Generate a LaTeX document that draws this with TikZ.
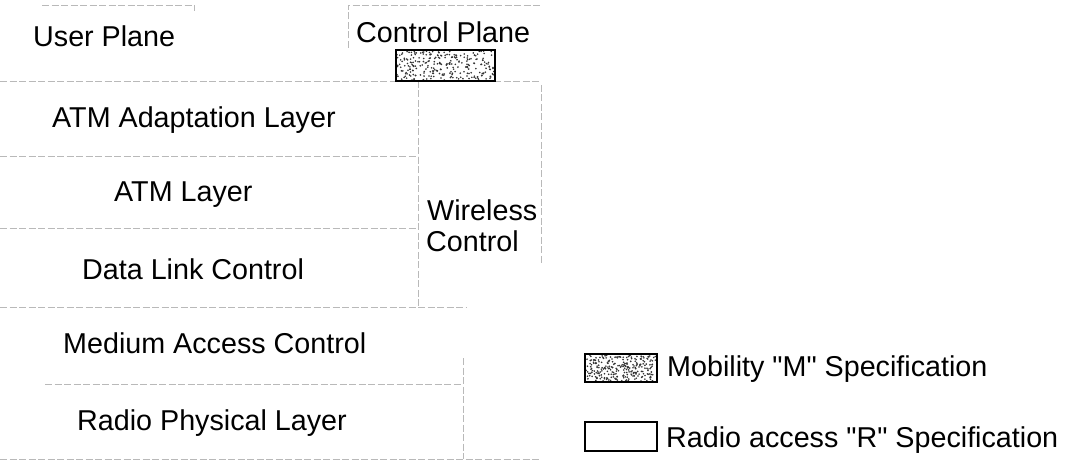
\documentclass[tikz,border=0pt]{standalone}
\usepackage{fontspec}
\setmainfont{Liberation Sans}[Ligatures=TeXOff]
\begin{document}
\begin{tikzpicture}[x=1pt,y=-1pt,
  sepline/.style={draw=gray!55,line width=0.9pt,dash pattern=on 7pt off 2.5pt},
  lbl/.style={font=\fontsize{28.7}{32}\selectfont,anchor=base west,inner sep=0pt,text=black},
  specbox/.style={draw=black,line width=2.2pt}]
\useasboundingbox (0,0) rectangle (1071,462);
% planes
\draw[sepline] (42,5) -- (194,5) -- (194,11);
\draw[sepline] (348,48) -- (348,5) -- (541,5);
\draw[sepline] (0,81) -- (541,81);
% layer separators
\draw[sepline] (0,156) -- (418,156);
\draw[sepline] (0,228) -- (418,228);
\draw[sepline] (0,307) -- (466,307);
\draw[sepline] (45,384) -- (463,384);
\draw[sepline] (0,459) -- (541,459);
% verticals
\draw[sepline] (418,81) -- (418,307);
\draw[sepline] (541,85) -- (541,265);
\draw[sepline] (463,358) -- (463,459);
% control plane M box
\pgfmathsetseed{7}
\fill[white] (396,50) rectangle (495,81);
\foreach \i in {1,...,260}{
  \fill[black!80] ({397+rnd*97},{51+rnd*29}) circle (0.9);
}
\draw[specbox,line width=1.6pt] (396,50) rectangle (495,81);
% texts
\node[lbl] (up) at (33,47) {User Plane};
\node[lbl] (cp) at (356,43) {Control Plane};
\node[lbl] (aal) at (52,128) {ATM Adaptation Layer};
\node[lbl] (atm) at (114,202) {ATM Layer};
\node[lbl] (dlc) at (82,280) {Data Link Control};
\node[lbl] (wc1) at (427,221) {Wireless};
\node[lbl] (wc2) at (426,252) {Control};
\node[lbl] (mac) at (63,353) {Medium Access Control};
\node[lbl] (rpl) at (77,430) {Radio Physical Layer};
% legend
\fill[white] (585,354) rectangle (657,382);
\foreach \i in {1,...,260}{
  \fill[black!80] ({586+rnd*70},{355+rnd*26}) circle (0.9);
}
\draw[specbox] (585,354) rectangle (657,382);
\draw[specbox] (585,422) rectangle (657,451);
\node[lbl] (lm) at (667,376) {Mobility "M" Specification};
\node[lbl] (lr) at (666,447) {Radio access "R" Specification};
\end{tikzpicture}
\end{document}
